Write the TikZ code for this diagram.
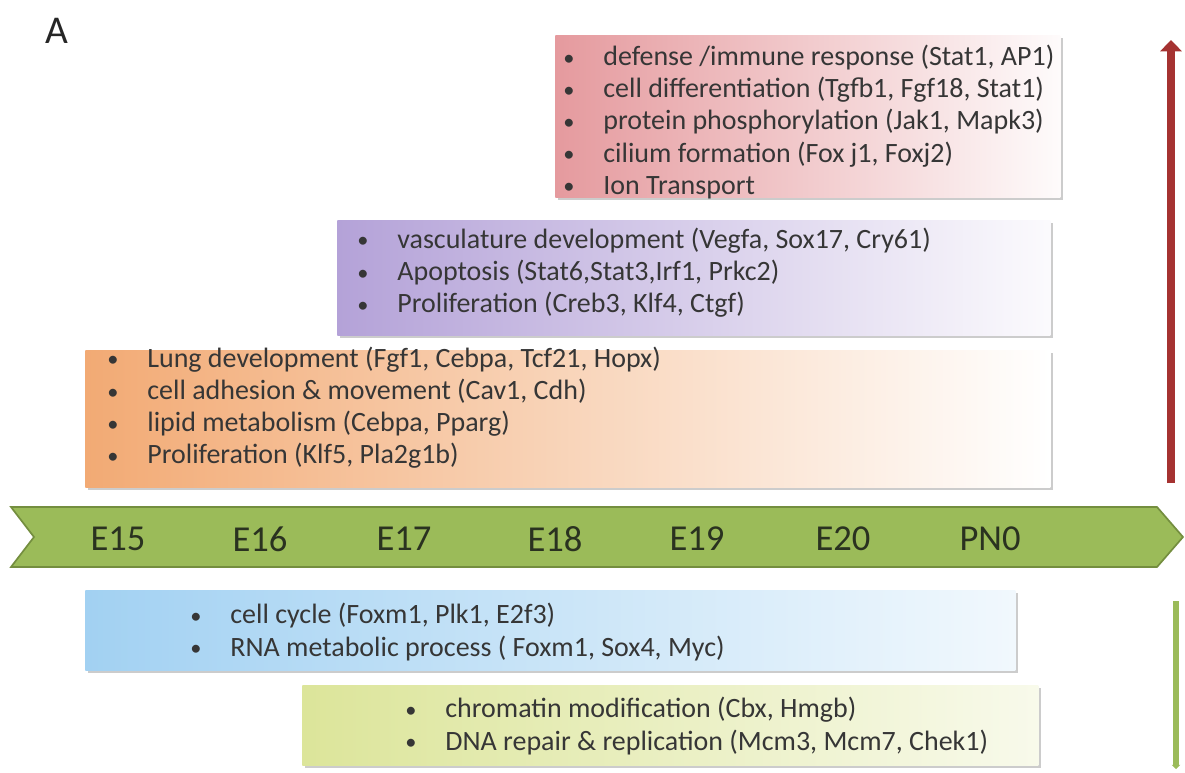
\documentclass[tikz,border=0pt]{standalone}
\usepackage{fontspec}
\setmainfont{Carlito}
\usetikzlibrary{arrows.meta,shadows}

\definecolor{immunered}{HTML}{E59A9E}
\definecolor{vascpurple}{HTML}{B4A2D8}
\definecolor{lungorange}{HTML}{F2AA74}
\definecolor{cycleblue}{HTML}{A2D1F2}
\definecolor{chromayellow}{HTML}{DCE59A}
\definecolor{bandgreen}{HTML}{9BBB59}
\definecolor{banddark}{HTML}{748E3F}
\definecolor{stagetext}{HTML}{2A3220}
\definecolor{listtext}{HTML}{363636}
\definecolor{risered}{HTML}{A53231}

\newcommand{\pxu}{0.025cm}
\newcommand{\itm}[1]{\makebox[28.5pt][l]{\raisebox{0.06ex}{\scalebox{0.8}{\textbullet}}}#1}

\begin{document}
\begin{tikzpicture}[x=\pxu,y=-\pxu,
    genebox/.style={anchor=north west,inner sep=0pt,
        drop shadow={shadow xshift=1.8pt,shadow yshift=-2.2pt,opacity=0.4}},
    genelist/.style={anchor=west,align=left,inner sep=0pt,text=listtext,
        font=\fontsize{19.9}{22.8}\selectfont},
    stage/.style={text=stagetext,font=\fontsize{26}{30}\selectfont},
    trend/.style={line width=#1}]
    \useasboundingbox (0,0) rectangle (1185,772);

    % Panel letter
    \node[font=\fontsize{28}{30}\selectfont,text=black!85] (panel) at (57,31) {A};

    % Late terms
    \node[genebox,left color=immunered,right color=white!96!immunered,
        minimum width=505*\pxu,minimum height=162*\pxu] (immunebox) at (555,35) {};
    \node[genelist] (immunelist) at (563,122) {\itm{defense /immune response (Stat1, AP1)}\\
        \itm{cell differentiation (Tgfb1, Fgf18, Stat1)}\\
        \itm{protein phosphorylation (Jak1, Mapk3)}\\
        \itm{cilium formation (Fox j1, Foxj2)}\\
        \itm{Ion Transport}};

    % Middle terms
    \node[genebox,left color=vascpurple,right color=white!95!vascpurple,
        minimum width=713*\pxu,minimum height=115*\pxu] (vascbox) at (337,220) {};
    \node[genelist] (vasclist) at (357,273) {\itm{vasculature development (Vegfa, Sox17, Cry61)}\\
        \itm{Apoptosis (Stat6,Stat3,Irf1, Prkc2)}\\
        \itm{Proliferation (Creb3, Klf4, Ctgf)}};

    % Early terms
    \node[genebox,left color=lungorange,middle color=lungorange!25,right color=white,
        minimum width=965*\pxu,minimum height=137*\pxu] (lungbox) at (85,350) {};
    \node[genelist] (lunglist) at (107,408) {\itm{Lung development (Fgf1, Cebpa, Tcf21, Hopx)}\\
        \itm{cell adhesion \& movement (Cav1, Cdh)}\\
        \itm{lipid metabolism (Cebpa, Pparg)}\\
        \itm{Proliferation (Klf5, Pla2g1b)}};

    % Time line
    \filldraw[fill=bandgreen,draw=banddark,line width=1.2pt]
        (11,507) -- (1157,507) -- (1183,537) -- (1157,567) -- (11,567) -- (34,537) -- cycle;
    \foreach \lbl/\xc in {E15/118,E16/260,E17/404,E18/555,E19/697,E20/843,PN0/990}
        \node[stage] (\lbl) at (\xc,539) {\lbl};

    % Falling terms
    \node[genebox,left color=cycleblue,right color=white!85!cycleblue,
        minimum width=930*\pxu,minimum height=80*\pxu] (cyclebox) at (85,590) {};
    \node[genelist] (cyclelist) at (190,632) {\itm{cell cycle (Foxm1, Plk1, E2f3)}\\
        \itm{RNA metabolic process ( Foxm1, Sox4, Myc)}};

    \node[genebox,left color=chromayellow,right color=white!80!chromayellow,
        minimum width=736*\pxu,minimum height=80*\pxu] (chromabox) at (302,685) {};
    \node[genelist] (chromalist) at (405,726) {\itm{chromatin modification (Cbx, Hmgb)}\\
        \itm{DNA repair \& replication (Mcm3, Mcm7, Chek1)}};

    % Trend arrows
    \coordinate (upfoot) at (1171,483);
    \coordinate (uptip) at (1171,40);
    \draw[trend=6pt,risered,-{Triangle[length=8pt,width=15pt]}] (upfoot) -- (uptip);
    \coordinate (downfoot) at (1176,601);
    \coordinate (downtip) at (1176,769);
    \draw[trend=4.5pt,bandgreen,-{Triangle[length=3pt,width=6pt]}] (downfoot) -- (downtip);
\end{tikzpicture}
\end{document}
